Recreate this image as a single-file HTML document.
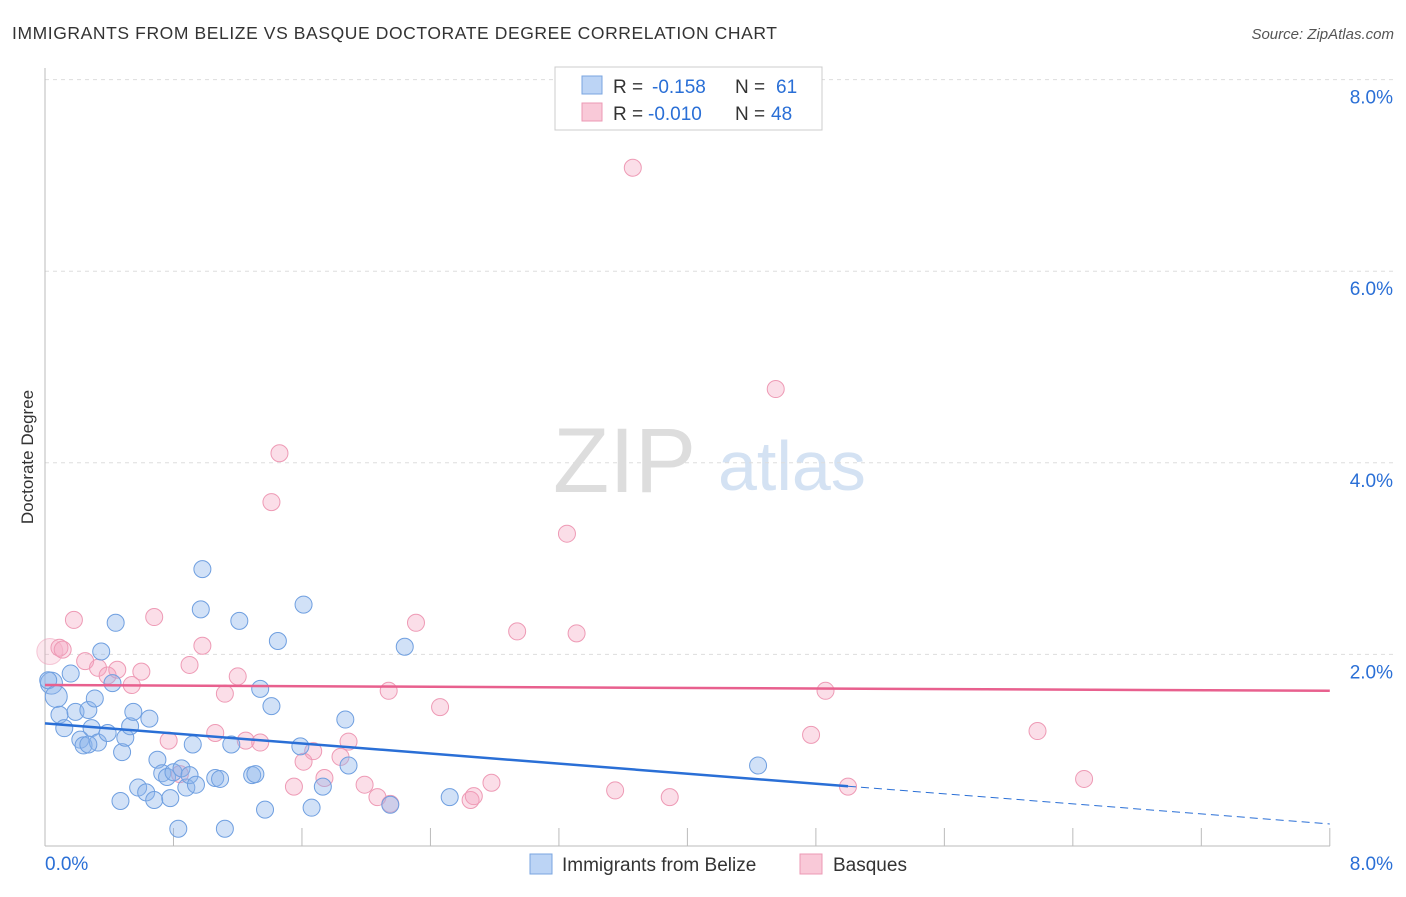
<!DOCTYPE html>
<html><head><meta charset="utf-8"><style>
body{margin:0;background:#fff;font-family:"Liberation Sans",sans-serif;}
svg text{font-family:"Liberation Sans",sans-serif;}
</style></head><body>
<svg id="chart" width="1406" height="892">
<text x="12" y="39" font-size="17.5" fill="#333" textLength="765" lengthAdjust="spacing">IMMIGRANTS FROM BELIZE VS BASQUE DOCTORATE DEGREE CORRELATION CHART</text>
<text x="1394" y="39" font-size="15" fill="#555" font-style="italic" text-anchor="end">Source: ZipAtlas.com</text>
<text x="33" y="457" font-size="17" fill="#333" transform="rotate(-90 33 457)" text-anchor="middle">Doctorate Degree</text>
<g><text x="553" y="492" font-size="92" fill="#ddd" font-family="Liberation Serif,serif">ZIP</text><text x="718" y="490" font-size="70" fill="#d4e2f3">atlas</text></g>
<g id="grid"></g><g id="pts"></g><g id="trend"></g>
<g>
<rect x="555" y="67" width="267" height="63" fill="#fff" stroke="#ccc"/>
<rect x="582" y="76" width="20" height="18" fill="#bcd4f5" stroke="#7aa5e0"/>
<rect x="582" y="103" width="20" height="18" fill="#f9c9d8" stroke="#ec99b4"/>
<text x="613" y="93" font-size="19" fill="#333">R = <tspan x="652" fill="#2a6fd6">-0.158</tspan><tspan x="735">N = </tspan><tspan x="776" fill="#2a6fd6">61</tspan></text>
<text x="613" y="120" font-size="19" fill="#333">R = <tspan x="648" fill="#2a6fd6">-0.010</tspan><tspan x="735">N = </tspan><tspan x="771" fill="#2a6fd6">48</tspan></text>
</g>
<g>
<rect x="530" y="854" width="22" height="20" fill="#bcd4f5" stroke="#7aa5e0"/>
<text x="562" y="871" font-size="19" fill="#333">Immigrants from Belize</text>
<rect x="800" y="854" width="22" height="20" fill="#f9c9d8" stroke="#ec99b4"/>
<text x="833" y="871" font-size="19" fill="#333">Basques</text>
</g>
</svg>
<script>
const xTicks=[0,1,2,3,4,5,6,7,8];
const yTicks=[2,4,6,8];
const yTickLabels=["2.0%","4.0%","6.0%","8.0%"];
const blueX=[0.04,0.02,0.07,0.16,0.09,0.12,0.19,0.22,0.24,0.27,0.29,0.31,0.33,0.35,0.39,0.42,0.44,0.47,0.48,0.50,0.53,0.55,0.58,0.63,0.65,0.68,0.70,0.73,0.76,0.78,0.80,0.83,0.85,0.88,0.90,0.92,0.94,0.97,0.98,1.06,1.09,1.12,1.16,1.21,1.29,1.31,1.34,1.37,1.41,1.45,1.59,1.61,1.66,1.73,1.87,1.89,2.15,2.24,2.52,4.44,0.27];
const blueY=[1.70,1.73,1.56,1.80,1.37,1.23,1.40,1.11,1.05,1.42,1.23,1.54,1.08,2.03,1.18,1.70,2.33,0.47,0.98,1.13,1.25,1.40,0.61,0.56,1.33,0.48,0.90,0.76,0.72,0.50,0.77,0.18,0.81,0.61,0.74,1.06,0.64,2.47,2.89,0.71,0.70,0.18,1.06,2.35,0.74,0.75,1.64,0.38,1.46,2.14,1.04,2.52,0.40,0.62,1.32,0.84,0.43,2.08,0.51,0.84,1.06];
const pinkX=[0.03,0.09,0.11,0.18,0.25,0.33,0.39,0.45,0.54,0.60,0.68,0.77,0.84,0.90,0.98,1.06,1.12,1.20,1.25,1.34,1.41,1.46,1.55,1.61,1.67,1.74,1.84,1.89,1.99,2.07,2.15,2.14,2.31,2.46,2.65,2.67,2.78,2.94,3.25,3.31,3.55,3.66,3.89,4.55,4.77,4.86,5.00,6.18,6.47];
const pinkY=[2.03,2.07,2.05,2.36,1.93,1.86,1.78,1.84,1.68,1.82,2.39,1.10,0.75,1.89,2.09,1.18,1.59,1.77,1.10,1.08,3.59,4.10,0.62,0.88,0.99,0.71,0.93,1.09,0.64,0.51,0.44,1.62,2.33,1.45,0.48,0.52,0.66,2.24,3.26,2.22,0.58,7.08,0.51,4.77,1.16,1.62,0.62,1.20,0.70];
const blueTrend=[1.28,0.23];
const pinkTrend=[1.68,1.62];
const X=v=>45+v*160.6, Y=v=>846-v*95.8;
const NS="http://www.w3.org/2000/svg";
function mk(t,a,p){const e=document.createElementNS(NS,t);for(const k in a)e.setAttribute(k,a[k]);p.appendChild(e);return e;}
const grid=document.getElementById('grid');
yTicks.forEach((t,i)=>{
 const l=mk('line',{x1:45,x2:1394,y1:Y(t),y2:Y(t),stroke:'#ddd','stroke-dasharray':'4,4'},grid);
 
 
 const tx=mk('text',{x:1393,y:Y(t)+24,'font-size':19,fill:'#2a6fd6','text-anchor':'end'},grid);tx.textContent=yTickLabels[i];
 
 
});
mk('line',{x1:45,x2:45,y1:68,y2:846,stroke:'#bbb'},grid);
mk('line',{x1:45,x2:1330,y1:846,y2:846,stroke:'#bbb'},grid);
for(let v=0.8;v<=8.01;v+=0.8){const l=mk('line',{x1:X(v),x2:X(v),y1:828,y2:846,stroke:'#bbb'},grid);
 
 }
let t0=mk('text',{x:45,y:870,'font-size':19,fill:'#2a6fd6'},grid);t0.textContent='0.0%';


let t8=mk('text',{x:1393,y:870,'font-size':19,fill:'#2a6fd6','text-anchor':'end'},grid);t8.textContent='8.0%';


const pts=document.getElementById('pts');
pinkX.forEach((x,i)=>{const c=mk('circle',{cx:X(x),cy:Y(pinkY[i]),r:i==0?13:8.5,fill:i==0?'rgba(244,160,188,0.25)':'rgba(244,160,188,0.35)',stroke:'#ee9ab5','stroke-width':1,'stroke-opacity':i==0?0.5:1},pts);
 
 });
blueX.forEach((x,i)=>{const c=mk('circle',{cx:X(x),cy:Y(blueY[i]),r:(i==2||i==0)?11:8.5,fill:'rgba(140,180,235,0.4)',stroke:'#6f9fe0','stroke-width':1},pts);
 
 });
const tr=document.getElementById('trend');
const bAt=v=>blueTrend[0]+(blueTrend[1]-blueTrend[0])*v/8;
let l1=mk('line',{x1:X(0),y1:Y(bAt(0)),x2:X(5),y2:Y(bAt(5)),stroke:'#2a6fd6','stroke-width':2.5},tr);


let l2=mk('line',{x1:X(5),y1:Y(bAt(5)),x2:X(8),y2:Y(bAt(8)),stroke:'#2a6fd6','stroke-width':1,'stroke-dasharray':'8,5'},tr);


let l3=mk('line',{x1:X(0),y1:Y(pinkTrend[0]),x2:X(8),y2:Y(pinkTrend[1]),stroke:'#e8608e','stroke-width':2.5},tr);


</script>
</body></html>
